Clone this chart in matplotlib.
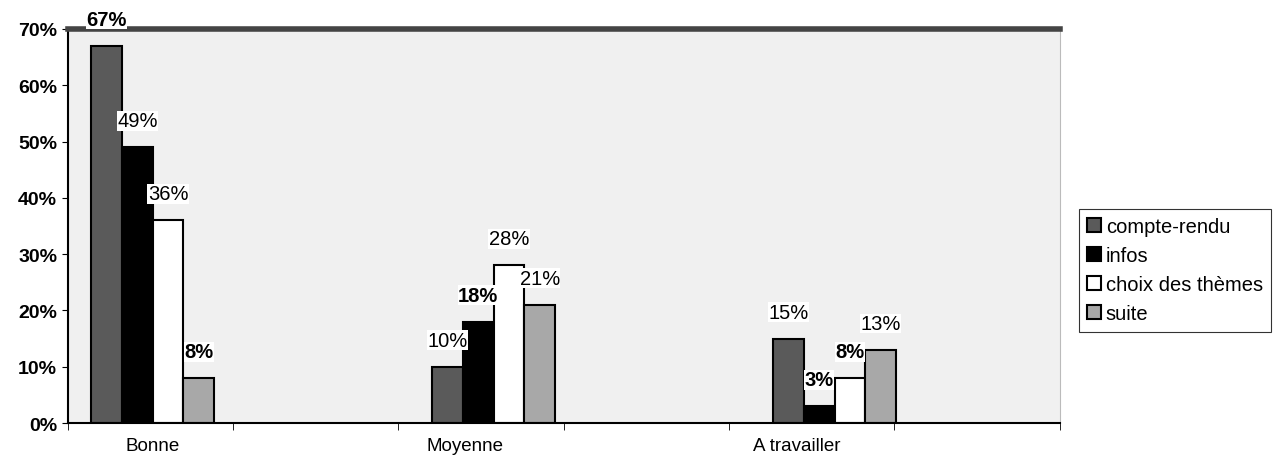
import numpy as np
import matplotlib.pyplot as plt

categories = ["Bonne", "Moyenne", "A travailler"]
series = ["compte-rendu", "infos", "choix des thèmes", "suite"]
compte_rendu = [67, 10, 15]
infos = [49, 18, 3]
choix = [36, 28, 8]
suite = [8, 21, 13]
bold_labels = [[True, False, False], [False, True, True], [False, False, True], [True, False, False]]

plt.rcParams['font.family'] = ['Liberation Sans', 'DejaVu Sans']

fig = plt.figure(figsize=(12.75, 4.6), dpi=100)
ax = fig.add_axes([0.053, 0.078, 0.778, 0.857])
ax.set_facecolor('#f0f0f0')

x = np.arange(len(categories))
w = 0.09
colors = ['#5a5a5a', '#000000', '#ffffff', '#a8a8a8']
data = [compte_rendu, infos, choix, suite]
for i, (name, vals) in enumerate(zip(series, data)):
    pos = x + (i - 1.5) * w
    ax.bar(pos, vals, w, color=colors[i], edgecolor='black', linewidth=1.5, label=name)
    for j, v in enumerate(vals):
        ax.text(pos[j], v + 4.7, f"{v}%", ha='center', va='center', fontsize=14.5,
                fontweight='bold' if bold_labels[i][j] else 'normal', clip_on=False,
                bbox=dict(facecolor='white', edgecolor='none', pad=0.3))

xmin, xmax = -0.25, 2.66
ax.set_xlim(xmin, xmax)
ax.set_ylim(0, 70)
ax.set_yticks(np.arange(0, 71, 10))
ax.set_yticklabels([f"{t}%" for t in range(0, 71, 10)], fontsize=14, fontweight='bold')
# category labels sit a little left of the bar groups in the original
ax.set_xticks([0, 0.915, 1.89])
ax.set_xticklabels(categories, fontsize=13.5)
ax.set_xticks(np.linspace(xmin, xmax, 7), minor=True)
ax.tick_params(axis='x', which='major', length=0, pad=10)
ax.tick_params(axis='x', which='minor', length=5, direction='out')
ax.tick_params(axis='y', length=4, direction='out')
ax.spines['top'].set_color('#444444')
ax.spines['top'].set_linewidth(4)
ax.spines['right'].set_color('#bbbbbb')
ax.spines['left'].set_linewidth(1.5)
ax.spines['bottom'].set_linewidth(1.5)

leg = fig.legend(loc='upper left', bbox_to_anchor=(0.846, 0.543), fontsize=14.5,
                 frameon=True, fancybox=False, edgecolor='black', handlelength=0.7,
                 handleheight=0.7, handletextpad=0.25, labelspacing=0.5, borderaxespad=0.0,
                 borderpad=0.4)
leg.get_frame().set_linewidth(0.8)

fig.savefig('out.png', dpi=100)
